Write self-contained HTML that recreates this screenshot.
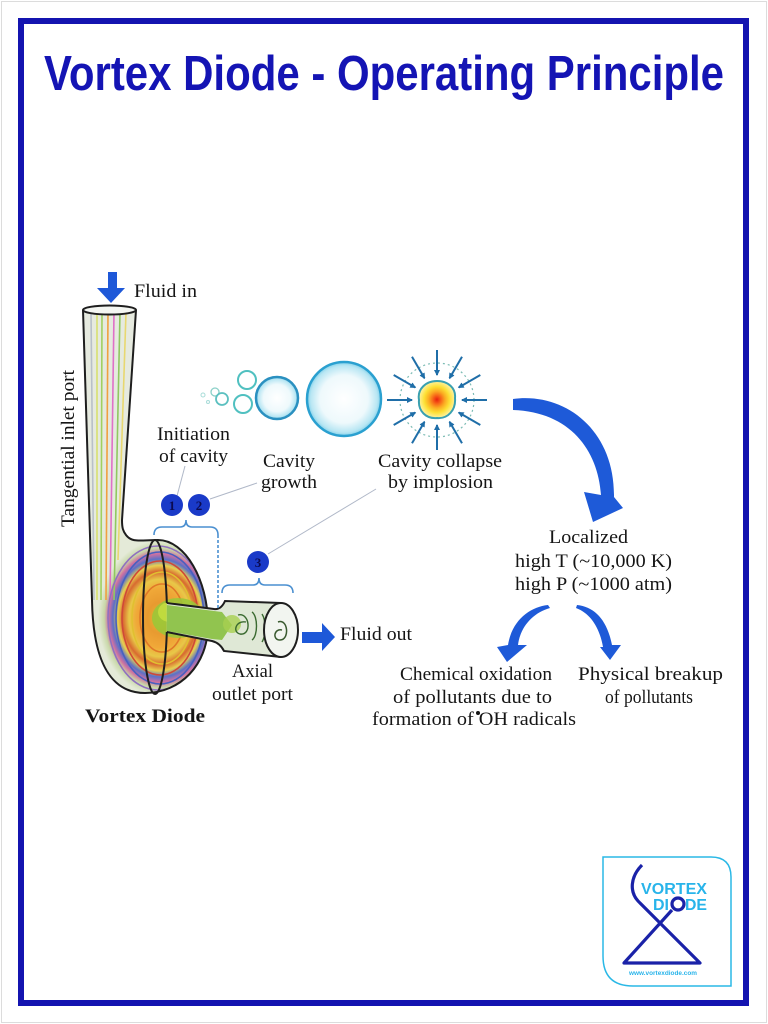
<!DOCTYPE html>
<html><head><meta charset="utf-8"><style>
html,body{margin:0;padding:0;background:#fff;}
svg{display:block;}
.s{font-family:"Liberation Serif",serif;font-size:19px;fill:#151515;}
</style></head><body>
<svg width="768" height="1024" viewBox="0 0 768 1024" xmlns="http://www.w3.org/2000/svg">
<defs>
<radialGradient id="bub" cx="50%" cy="50%" r="50%">
<stop offset="0" stop-color="#ffffff"/><stop offset="0.65" stop-color="#eef9fc"/><stop offset="0.9" stop-color="#b8e6f3"/><stop offset="1" stop-color="#7fd0ea"/>
</radialGradient>
<radialGradient id="core" cx="50%" cy="50%" r="50%">
<stop offset="0" stop-color="#e8200e"/><stop offset="0.22" stop-color="#f76418"/><stop offset="0.45" stop-color="#fbab22"/><stop offset="0.7" stop-color="#fde034"/><stop offset="1" stop-color="#fff2a0"/>
</radialGradient>
<radialGradient id="disk" cx="160" cy="618" r="62" gradientUnits="userSpaceOnUse" gradientTransform="translate(160 618) scale(1 1.25) translate(-160 -618)">
<stop offset="0" stop-color="#d8c030"/><stop offset="0.2" stop-color="#e89a30"/><stop offset="0.38" stop-color="#f0a838"/><stop offset="0.5" stop-color="#e8c848"/><stop offset="0.6" stop-color="#d86a30"/><stop offset="0.68" stop-color="#e8d050"/><stop offset="0.76" stop-color="#5a70c8"/><stop offset="0.83" stop-color="#d070a0"/><stop offset="0.9" stop-color="#c8d8a8"/><stop offset="1" stop-color="#e4ead8"/>
</radialGradient>
<clipPath id="bodyclip"><path d="M83,310 L92,600 C93,660 110,693 145,693 C180,693 208,665 208,625 C208,580 185,540 158,540 C140,540 132,543 126,535 C123,531 122,528 122,520 L136,310 Z"/></clipPath>
<marker id="ah" markerWidth="6" markerHeight="6" refX="5" refY="3" orient="auto" markerUnits="userSpaceOnUse"><path d="M0,0 L6,3 L0,6 Z" fill="#1f6ea8"/></marker>
</defs>

<rect x="1.5" y="1.5" width="765" height="1021" fill="#fff" stroke="#dcdcdc" stroke-width="1"/>
<rect x="21" y="21" width="725" height="982" fill="none" stroke="#1414b0" stroke-width="6"/>

<text x="44" y="90" font-family="Liberation Sans, Arial, sans-serif" font-weight="bold" font-size="49" fill="#1414b4" textLength="680" lengthAdjust="spacingAndGlyphs">Vortex Diode - Operating Principle</text>

<!-- Diode body -->
<g clip-path="url(#bodyclip)">
<rect x="80" y="300" width="140" height="400" fill="#e6eadf"/>
<rect x="80" y="530" width="140" height="170" fill="url(#disk)"/>
<g fill="none" stroke-width="1.6">
<path d="M97,312 L97,600" stroke="#d8e070"/>
<path d="M102,312 L101,600" stroke="#a0d060"/>
<path d="M108,312 L106,600" stroke="#f0a040"/>
<path d="M114,312 L110,600" stroke="#e070c8"/>
<path d="M120,312 L114,600" stroke="#90c860"/>
<path d="M126,312 L118,560" stroke="#e8d870"/>
<path d="M91,312 L94,600" stroke="#b8c0c8"/>
<ellipse cx="160" cy="618" rx="44" ry="66" stroke="#4860c0"/>
<ellipse cx="160" cy="618" rx="38" ry="57" stroke="#d04838"/>
<ellipse cx="158" cy="618" rx="50" ry="72" stroke="#9070c0"/>
<ellipse cx="162" cy="618" rx="30" ry="46" stroke="#e0c030"/>
<ellipse cx="162" cy="618" rx="22" ry="34" stroke="#e07828"/>
</g>
<ellipse cx="178" cy="618" rx="26" ry="20" fill="#98c838" opacity="0.85"/>
<ellipse cx="170" cy="612" rx="12" ry="10" fill="#c8e040" opacity="0.8"/>
</g>
<path d="M83,310 L92,600 C93,660 110,693 145,693 C180,693 208,665 208,625 C208,580 185,540 158,540 C140,540 132,543 126,535 C123,531 122,528 122,520 L136,310" fill="none" stroke="#1e1e1e" stroke-width="2"/>
<ellipse cx="109.5" cy="310" rx="26.5" ry="4.5" fill="#f4f6f2" stroke="#1e1e1e" stroke-width="2"/>

<!-- outlet -->
<path d="M166.8,603 L214,609 Q221,610 225,601 L281,603 L281,657 L224,651 Q220,643 212,641 L166.8,632 Z" fill="#dfe8d6"/>
<path d="M166.8,605 L214,611 L222,612 L232,625 L222,640 L212,639 L166.8,631 Z" fill="#88c040" opacity="0.9"/>
<circle cx="232" cy="624" r="9" fill="#a8d050" opacity="0.8"/>
<g fill="none" stroke="#3a6a30" stroke-width="1.4">
<path d="M238,615 C250,612 252,636 240,634 C232,632 236,620 246,622"/>
<path d="M252,612 C258,616 258,636 252,640"/>
<path d="M262,614 C266,620 266,636 262,642"/>
</g>
<path d="M166.8,603 L214,609 Q221,610 225,601 L281,603 M166.8,632 L212,641 Q220,643 224,651 L281,657" fill="none" stroke="#1e1e1e" stroke-width="2"/>
<ellipse cx="281" cy="630" rx="17" ry="27" fill="#f2f5f0" stroke="#1e1e1e" stroke-width="2"/>
<path d="M278,622 C288,618 290,640 280,640 C272,640 274,628 282,630" fill="none" stroke="#3a5a30" stroke-width="1.5"/>
<path d="M155,540 A12,77 0 0 0 155,694 A12,77 0 0 0 166.8,632 M166.8,603 A12,77 0 0 0 155,540" fill="none" stroke="#1e1e1e" stroke-width="2"/>

<!-- arrows in/out -->
<path d="M108,272 L117,272 L117,288 L125,288 L111,303 L97,288 L108,288 Z" fill="#1e58d8"/>
<path d="M302,632 L322,632 L322,623 L335,637 L322,651 L322,643 L302,643 Z" fill="#1e58d8"/>

<!-- brackets -->
<g fill="none" stroke="#4a8fd0" stroke-width="1.6">
<path d="M154,535 Q154,527 162,527 L180,527 Q186,527 186,520 Q186,527 192,527 L210,527 Q218,527 218,535"/>
<path d="M218,535 L218,610" stroke-dasharray="3 2"/>
<path d="M222,593 Q222,585 230,585 L253,585 Q259,585 259,578 Q259,585 265,585 L285,585 Q293,585 293,593"/>
</g>
<!-- leader lines -->
<g stroke="#b0b8c8" stroke-width="1">
<line x1="177" y1="496" x2="185" y2="466"/>
<line x1="210" y1="499" x2="257" y2="483"/>
<line x1="268" y1="554" x2="376" y2="489"/>
</g>
<g font-family="Liberation Serif, serif" font-size="13" font-weight="bold" fill="#0a0a50" text-anchor="middle">
<circle cx="172" cy="505" r="11" fill="#1a3ac8"/><text x="172" y="510">1</text>
<circle cx="199" cy="505" r="11" fill="#1a3ac8"/><text x="199" y="510">2</text>
<circle cx="258" cy="562" r="11" fill="#1a3ac8"/><text x="258" y="567">3</text>
</g>

<!-- bubbles -->
<g fill="none">
<circle cx="203" cy="395" r="2" stroke="#a8dcd8" stroke-width="1"/>
<circle cx="208" cy="402" r="1.5" stroke="#a8dcd8" stroke-width="1"/>
<circle cx="215" cy="392" r="4" stroke="#8ad0c8" stroke-width="1.3"/>
<circle cx="222" cy="399" r="6" stroke="#5cc0c0" stroke-width="1.8"/>
<circle cx="247" cy="380" r="9" stroke="#50c0c0" stroke-width="2"/>
<circle cx="243" cy="404" r="9" stroke="#50c0c0" stroke-width="2"/>
</g>
<circle cx="277" cy="398" r="21" fill="url(#bub)" stroke="#2a90c0" stroke-width="2.5"/>
<circle cx="344" cy="399" r="37" fill="url(#bub)" stroke="#2aa0d0" stroke-width="2.5"/>

<!-- collapse -->
<circle cx="437" cy="400" r="37" fill="none" stroke="#7cbcb4" stroke-width="1.2" stroke-dasharray="2 3"/>
<path d="M437,381 C448,381 456,388 455,398 C456,410 448,419 437,418 C426,419 418,411 419,400 C417,389 426,381 437,381 Z" fill="url(#core)" stroke="#3aa0b0" stroke-width="2"/>
<g stroke="#1f6ea8" stroke-width="2" marker-end="url(#ah)">
<line x1="487" y1="400" x2="462" y2="400"/>
<line x1="387" y1="400" x2="412" y2="400"/>
<line x1="437" y1="350" x2="437" y2="375"/>
<line x1="437" y1="450" x2="437" y2="425"/>
<line x1="480.3" y1="375" x2="458.7" y2="387.5"/>
<line x1="393.7" y1="375" x2="415.3" y2="387.5"/>
<line x1="480.3" y1="425" x2="458.7" y2="412.5"/>
<line x1="393.7" y1="425" x2="415.3" y2="412.5"/>
<line x1="462" y1="356.7" x2="449.5" y2="378.3"/>
<line x1="412" y1="356.7" x2="424.5" y2="378.3"/>
<line x1="462" y1="443.3" x2="449.5" y2="421.7"/>
<line x1="412" y1="443.3" x2="424.5" y2="421.7"/>
</g>

<!-- big arrow -->
<path d="M513,399 C565,392 615,430 614,497 L623,508 L593,522 L584,492 L601,495 C598,450 570,412 513,410 Z" fill="#1e5ad8"/>
<!-- small arrows -->
<path d="M548,605 C530,607 512,620 508,645 L497,647 L507,662 L527,645 L518,645 C520,628 532,613 550,608 Z" fill="#1e5ad8"/>
<path d="M577,605 C595,607 607,620 612,645 L621,645 L610,660 L600,647 L603,647 C600,630 592,614 576,608 Z" fill="#1e5ad8"/>

<!-- texts -->
<text class="s" x="134" y="297" textLength="63" lengthAdjust="spacingAndGlyphs">Fluid in</text>
<text class="s" transform="translate(74,527) rotate(-90)" x="0" y="0" textLength="157" lengthAdjust="spacingAndGlyphs">Tangential inlet port</text>
<text class="s" x="157" y="440" textLength="73" lengthAdjust="spacingAndGlyphs">Initiation</text>
<text class="s" x="159" y="462" textLength="69" lengthAdjust="spacingAndGlyphs">of cavity</text>
<text class="s" x="263" y="467" textLength="52" lengthAdjust="spacingAndGlyphs">Cavity</text>
<text class="s" x="261" y="488" textLength="56" lengthAdjust="spacingAndGlyphs">growth</text>
<text class="s" x="378" y="467" textLength="124" lengthAdjust="spacingAndGlyphs">Cavity collapse</text>
<text class="s" x="388" y="488" textLength="105" lengthAdjust="spacingAndGlyphs">by implosion</text>
<text class="s" x="549" y="543" textLength="79" lengthAdjust="spacingAndGlyphs">Localized</text>
<text class="s" x="515" y="567" textLength="157" lengthAdjust="spacingAndGlyphs">high T (~10,000 K)</text>
<text class="s" x="515" y="590" textLength="157" lengthAdjust="spacingAndGlyphs">high P (~1000 atm)</text>
<text class="s" x="340" y="640" textLength="72" lengthAdjust="spacingAndGlyphs">Fluid out</text>
<text class="s" x="232" y="677" textLength="41" lengthAdjust="spacingAndGlyphs">Axial</text>
<text class="s" x="212" y="700" textLength="81" lengthAdjust="spacingAndGlyphs">outlet port</text>
<text class="s" x="85" y="722" font-weight="bold" textLength="120" lengthAdjust="spacingAndGlyphs">Vortex Diode</text>
<text class="s" x="400" y="680" textLength="152" lengthAdjust="spacingAndGlyphs">Chemical oxidation</text>
<text class="s" x="393" y="703" textLength="159" lengthAdjust="spacingAndGlyphs">of pollutants due to</text>
<text class="s" x="372" y="725" textLength="204" lengthAdjust="spacingAndGlyphs">formation of  OH radicals</text>
<circle cx="478" cy="713" r="2" fill="#151515"/>
<text class="s" x="578" y="680" textLength="145" lengthAdjust="spacingAndGlyphs">Physical breakup</text>
<text class="s" x="605" y="703" textLength="88" lengthAdjust="spacingAndGlyphs">of pollutants</text>

<!-- logo -->
<path d="M603,857 L711,857 Q731,857 731,877 L731,986 L633,986 Q603,986 603,956 Z" fill="#fff" stroke="#2ab8e6" stroke-width="1.5"/>
<g font-family="Liberation Sans, Arial, sans-serif" font-weight="bold" fill="#28b4ea">
<text x="641" y="894" font-size="16" textLength="66" lengthAdjust="spacingAndGlyphs">VORTEX</text>
<text x="653" y="910" font-size="16" textLength="16" lengthAdjust="spacingAndGlyphs">DI</text>
<text x="685" y="910" font-size="16" textLength="22" lengthAdjust="spacingAndGlyphs">DE</text>
<text x="629" y="975" font-size="6.5" textLength="68" lengthAdjust="spacingAndGlyphs">www.vortexdiode.com</text>
</g>
<g fill="none" stroke="#1a22a8" stroke-width="3.2" stroke-linejoin="round">
<path d="M642,865 C631,876 628,892 640,903 L700,963 L624,963 L672,910"/>
<circle cx="678" cy="904" r="6"/>
</g>
</svg>
</body></html>
